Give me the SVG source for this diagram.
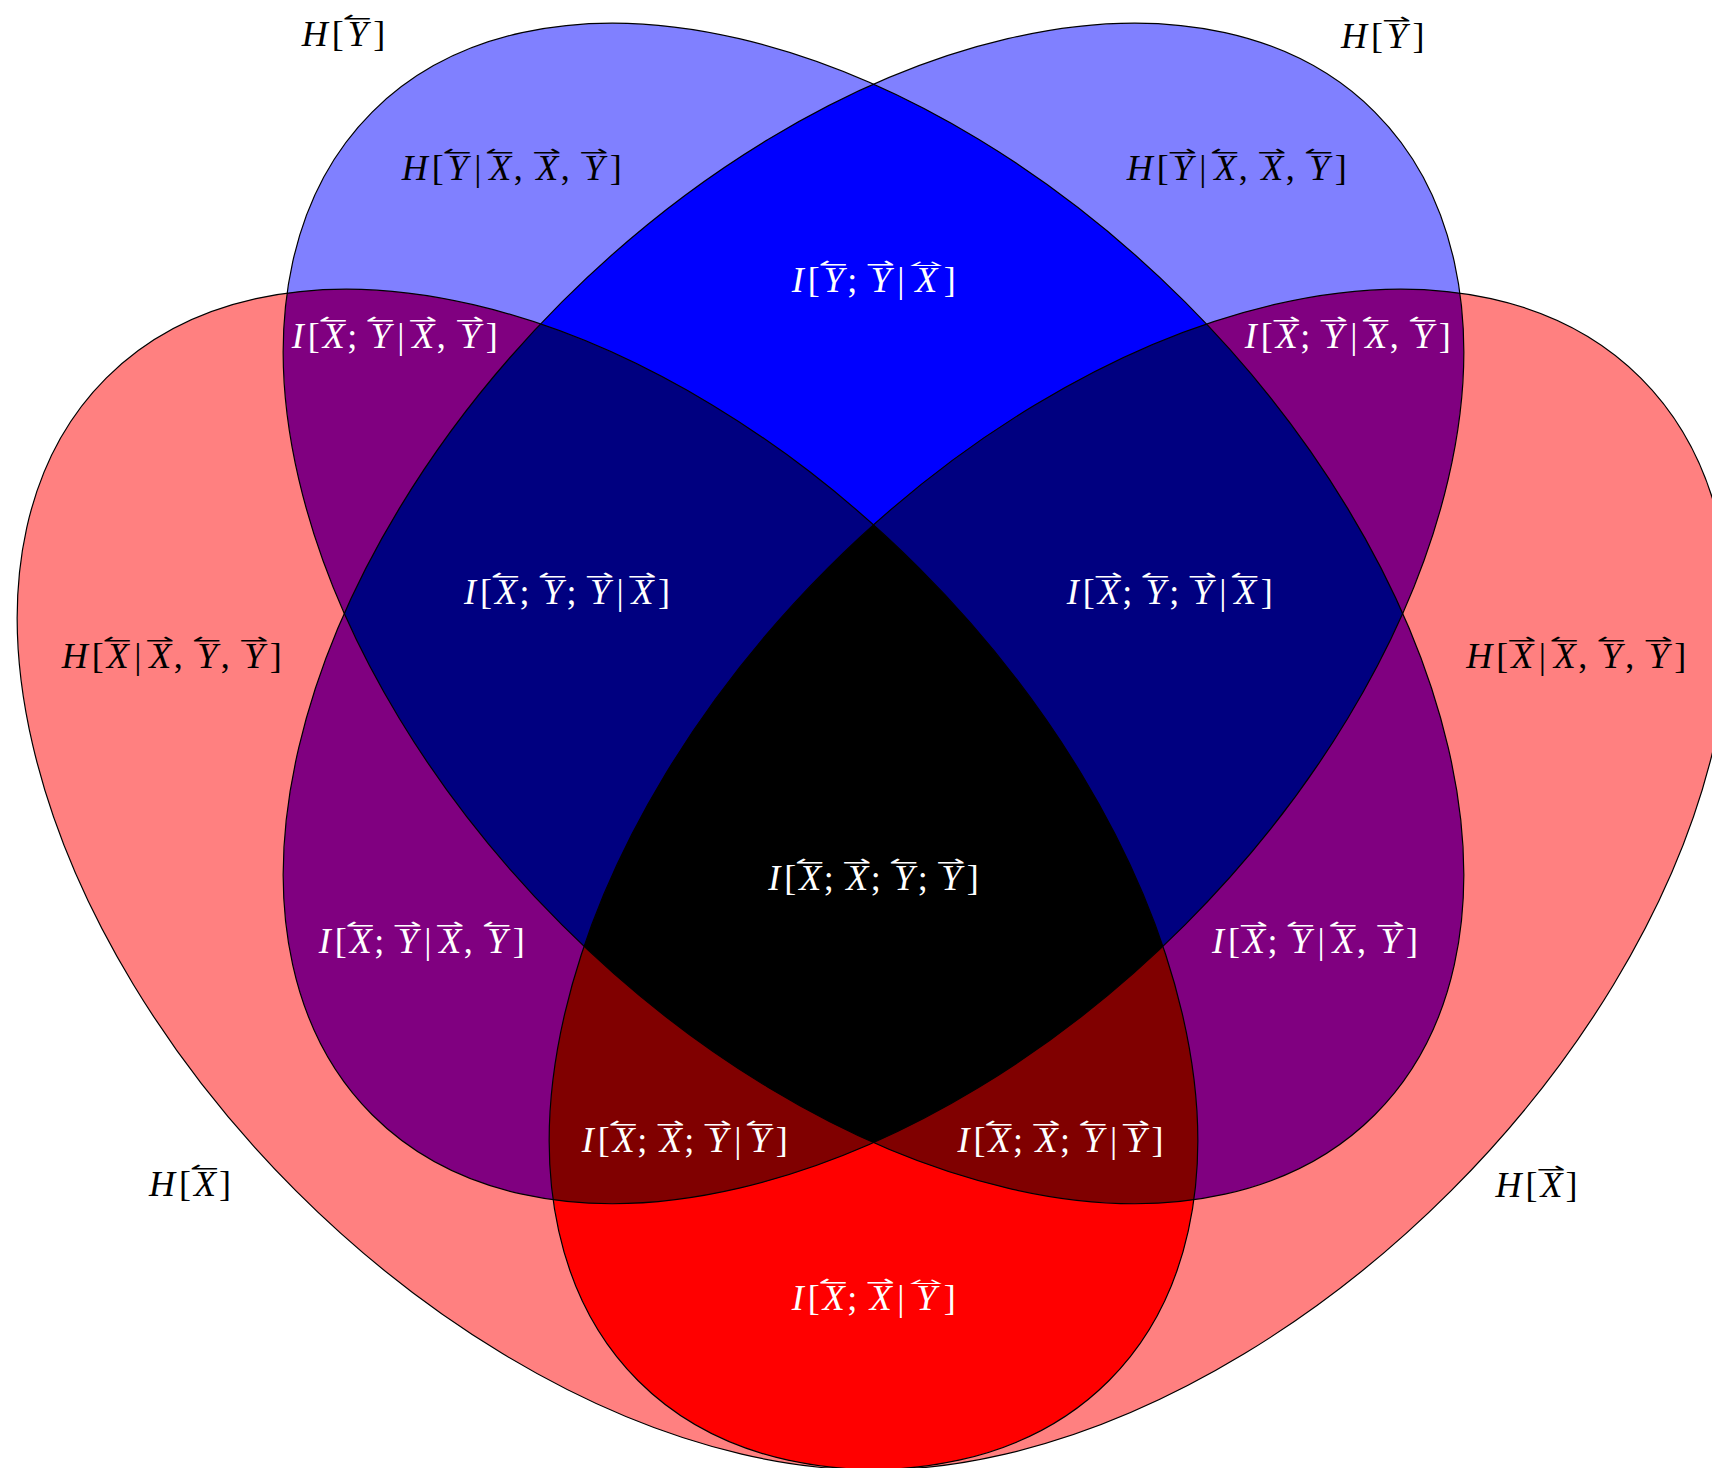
<svg xmlns="http://www.w3.org/2000/svg" width="1712" height="1468" viewBox="0 0 1712 1468">
<style>
.t{font-family:"Liberation Serif",serif;font-size:36px;font-style:italic}
.t .n{font-style:normal}
.t .a{font-family:"DejaVu Sans",sans-serif;font-size:20px;font-style:normal}
.k{fill:#000}
.w{fill:#fff}
.o{fill:none;stroke:#000;stroke-width:1.2}
</style>
<defs>
<ellipse id="eYL" cx="873.5" cy="613.4" rx="709" ry="440.5" transform="rotate(45 873.5 613.4)"/>
<ellipse id="eYR" cx="873.5" cy="613.4" rx="709" ry="440.5" transform="rotate(-45 873.5 613.4)"/>
<ellipse id="eXL" cx="607.5" cy="879.4" rx="709" ry="440.5" transform="rotate(45 607.5 879.4)"/>
<ellipse id="eXR" cx="1139.5" cy="879.4" rx="709" ry="440.5" transform="rotate(-45 1139.5 879.4)"/>
<clipPath id="cYL"><use href="#eYL"/></clipPath>
<clipPath id="cYR"><use href="#eYR"/></clipPath>
<clipPath id="cXL"><use href="#eXL"/></clipPath>
<clipPath id="cXR"><use href="#eXR"/></clipPath>
</defs>
<rect width="1712" height="1468" fill="#fff"/>
<g id="fills">
<use href="#eYL" fill="#8080ff"/>
<use href="#eYR" fill="#8080ff"/>
<use href="#eXL" fill="#ff8080"/>
<use href="#eXR" fill="#ff8080"/>
<g clip-path="url(#cYL)"><use href="#eYR" fill="#0000ff"/></g>
<g clip-path="url(#cXL)"><use href="#eXR" fill="#ff0000"/></g>
<g clip-path="url(#cYL)"><use href="#eXL" fill="#800080"/><use href="#eXR" fill="#800080"/></g>
<g clip-path="url(#cYR)"><use href="#eXL" fill="#800080"/><use href="#eXR" fill="#800080"/></g>
<g clip-path="url(#cYL)"><g clip-path="url(#cYR)"><use href="#eXL" fill="#000080"/><use href="#eXR" fill="#000080"/></g></g>
<g clip-path="url(#cXL)"><g clip-path="url(#cXR)"><use href="#eYL" fill="#800000"/><use href="#eYR" fill="#800000"/></g></g>
<g clip-path="url(#cXL)"><g clip-path="url(#cXR)"><g clip-path="url(#cYL)"><use href="#eYR" fill="#000000"/></g></g></g>
</g>
<g id="setYL"><use href="#eYL" class="o"/></g>
<g id="setYR"><use href="#eYR" class="o"/></g>
<g id="setXL"><use href="#eXL" class="o"/></g>
<g id="setXR"><use href="#eXR" class="o"/></g>

<g id="l1" class="k" transform="translate(301.7,46)">
<text class="t"><tspan x="0" y="0">H</tspan><tspan class="n" x="30" y="0">[</tspan><tspan x="46" y="0">Y</tspan><tspan class="a" x="41" y="-21" textLength="29" lengthAdjust="spacingAndGlyphs">↼</tspan><tspan class="n" x="71.5" y="0">]</tspan></text>
</g>
<g id="l2" class="k" transform="translate(1341,48)">
<text class="t"><tspan x="0" y="0">H</tspan><tspan class="n" x="30" y="0">[</tspan><tspan x="46" y="0">Y</tspan><tspan class="a" x="41" y="-21" textLength="29" lengthAdjust="spacingAndGlyphs">⇀</tspan><tspan class="n" x="71.5" y="0">]</tspan></text>
</g>
<g id="l3" class="k" transform="translate(401.7,180)">
<text class="t"><tspan x="0" y="0">H</tspan><tspan class="n" x="30" y="0">[</tspan><tspan x="46" y="0">Y</tspan><tspan class="a" x="41" y="-21" textLength="29" lengthAdjust="spacingAndGlyphs">↼</tspan><tspan class="n" x="72.5" y="0">|</tspan><tspan x="87.5" y="0">X</tspan><tspan class="a" x="83.5" y="-21" textLength="29" lengthAdjust="spacingAndGlyphs">↼</tspan><tspan class="n" x="112" y="0">,</tspan><tspan x="134.5" y="0">X</tspan><tspan class="a" x="130.5" y="-21" textLength="29" lengthAdjust="spacingAndGlyphs">⇀</tspan><tspan class="n" x="159" y="0">,</tspan><tspan x="182.5" y="0">Y</tspan><tspan class="a" x="177.5" y="-21" textLength="29" lengthAdjust="spacingAndGlyphs">⇀</tspan><tspan class="n" x="208" y="0">]</tspan></text>
</g>
<g id="l4" class="k" transform="translate(1126.8,180)">
<text class="t"><tspan x="0" y="0">H</tspan><tspan class="n" x="30" y="0">[</tspan><tspan x="46" y="0">Y</tspan><tspan class="a" x="41" y="-21" textLength="29" lengthAdjust="spacingAndGlyphs">⇀</tspan><tspan class="n" x="72.5" y="0">|</tspan><tspan x="87.5" y="0">X</tspan><tspan class="a" x="83.5" y="-21" textLength="29" lengthAdjust="spacingAndGlyphs">↼</tspan><tspan class="n" x="112" y="0">,</tspan><tspan x="134.5" y="0">X</tspan><tspan class="a" x="130.5" y="-21" textLength="29" lengthAdjust="spacingAndGlyphs">⇀</tspan><tspan class="n" x="159" y="0">,</tspan><tspan x="182.5" y="0">Y</tspan><tspan class="a" x="177.5" y="-21" textLength="29" lengthAdjust="spacingAndGlyphs">↼</tspan><tspan class="n" x="208" y="0">]</tspan></text>
</g>
<g id="l5" class="w" transform="translate(791.7,291.7)">
<text class="t"><tspan x="0" y="0">I</tspan><tspan class="n" x="16" y="0">[</tspan><tspan x="32" y="0">Y</tspan><tspan class="a" x="27" y="-21" textLength="29" lengthAdjust="spacingAndGlyphs">↼</tspan><tspan class="n" x="55.5" y="0">;</tspan><tspan x="79" y="0">Y</tspan><tspan class="a" x="74" y="-21" textLength="29" lengthAdjust="spacingAndGlyphs">⇀</tspan><tspan class="n" x="105.5" y="0">|</tspan><tspan x="123.5" y="0">X</tspan><tspan class="a" x="117.5" y="-21" textLength="34" lengthAdjust="spacingAndGlyphs">⥎</tspan><tspan class="n" x="152" y="0">]</tspan></text>
</g>
<g id="l6" class="w" transform="translate(291.7,347.7)">
<text class="t"><tspan x="0" y="0">I</tspan><tspan class="n" x="16" y="0">[</tspan><tspan x="31" y="0">X</tspan><tspan class="a" x="27" y="-21" textLength="29" lengthAdjust="spacingAndGlyphs">↼</tspan><tspan class="n" x="55.5" y="0">;</tspan><tspan x="79" y="0">Y</tspan><tspan class="a" x="74" y="-21" textLength="29" lengthAdjust="spacingAndGlyphs">↼</tspan><tspan class="n" x="105.5" y="0">|</tspan><tspan x="120.5" y="0">X</tspan><tspan class="a" x="116.5" y="-21" textLength="29" lengthAdjust="spacingAndGlyphs">⇀</tspan><tspan class="n" x="145" y="0">,</tspan><tspan x="168.5" y="0">Y</tspan><tspan class="a" x="163.5" y="-21" textLength="29" lengthAdjust="spacingAndGlyphs">⇀</tspan><tspan class="n" x="194" y="0">]</tspan></text>
</g>
<g id="l7" class="w" transform="translate(1244.7,347.7)">
<text class="t"><tspan x="0" y="0">I</tspan><tspan class="n" x="16" y="0">[</tspan><tspan x="31" y="0">X</tspan><tspan class="a" x="27" y="-21" textLength="29" lengthAdjust="spacingAndGlyphs">⇀</tspan><tspan class="n" x="55.5" y="0">;</tspan><tspan x="79" y="0">Y</tspan><tspan class="a" x="74" y="-21" textLength="29" lengthAdjust="spacingAndGlyphs">⇀</tspan><tspan class="n" x="105.5" y="0">|</tspan><tspan x="120.5" y="0">X</tspan><tspan class="a" x="116.5" y="-21" textLength="29" lengthAdjust="spacingAndGlyphs">↼</tspan><tspan class="n" x="145" y="0">,</tspan><tspan x="168.5" y="0">Y</tspan><tspan class="a" x="163.5" y="-21" textLength="29" lengthAdjust="spacingAndGlyphs">↼</tspan><tspan class="n" x="194" y="0">]</tspan></text>
</g>
<g id="l8" class="w" transform="translate(464,604)">
<text class="t"><tspan x="0" y="0">I</tspan><tspan class="n" x="16" y="0">[</tspan><tspan x="31" y="0">X</tspan><tspan class="a" x="27" y="-21" textLength="29" lengthAdjust="spacingAndGlyphs">↼</tspan><tspan class="n" x="55.5" y="0">;</tspan><tspan x="79" y="0">Y</tspan><tspan class="a" x="74" y="-21" textLength="29" lengthAdjust="spacingAndGlyphs">↼</tspan><tspan class="n" x="102.5" y="0">;</tspan><tspan x="126" y="0">Y</tspan><tspan class="a" x="121" y="-21" textLength="29" lengthAdjust="spacingAndGlyphs">⇀</tspan><tspan class="n" x="152.5" y="0">|</tspan><tspan x="167.5" y="0">X</tspan><tspan class="a" x="163.5" y="-21" textLength="29" lengthAdjust="spacingAndGlyphs">⇀</tspan><tspan class="n" x="194" y="0">]</tspan></text>
</g>
<g id="l9" class="w" transform="translate(1066.7,604)">
<text class="t"><tspan x="0" y="0">I</tspan><tspan class="n" x="16" y="0">[</tspan><tspan x="31" y="0">X</tspan><tspan class="a" x="27" y="-21" textLength="29" lengthAdjust="spacingAndGlyphs">⇀</tspan><tspan class="n" x="55.5" y="0">;</tspan><tspan x="79" y="0">Y</tspan><tspan class="a" x="74" y="-21" textLength="29" lengthAdjust="spacingAndGlyphs">↼</tspan><tspan class="n" x="102.5" y="0">;</tspan><tspan x="126" y="0">Y</tspan><tspan class="a" x="121" y="-21" textLength="29" lengthAdjust="spacingAndGlyphs">⇀</tspan><tspan class="n" x="152.5" y="0">|</tspan><tspan x="167.5" y="0">X</tspan><tspan class="a" x="163.5" y="-21" textLength="29" lengthAdjust="spacingAndGlyphs">↼</tspan><tspan class="n" x="194" y="0">]</tspan></text>
</g>
<g id="l10" class="k" transform="translate(61.7,667.7)">
<text class="t"><tspan x="0" y="0">H</tspan><tspan class="n" x="30" y="0">[</tspan><tspan x="45" y="0">X</tspan><tspan class="a" x="41" y="-21" textLength="29" lengthAdjust="spacingAndGlyphs">↼</tspan><tspan class="n" x="72.5" y="0">|</tspan><tspan x="87.5" y="0">X</tspan><tspan class="a" x="83.5" y="-21" textLength="29" lengthAdjust="spacingAndGlyphs">⇀</tspan><tspan class="n" x="112" y="0">,</tspan><tspan x="135.5" y="0">Y</tspan><tspan class="a" x="130.5" y="-21" textLength="29" lengthAdjust="spacingAndGlyphs">↼</tspan><tspan class="n" x="159" y="0">,</tspan><tspan x="182.5" y="0">Y</tspan><tspan class="a" x="177.5" y="-21" textLength="29" lengthAdjust="spacingAndGlyphs">⇀</tspan><tspan class="n" x="208" y="0">]</tspan></text>
</g>
<g id="l11" class="k" transform="translate(1466.3,667.7)">
<text class="t"><tspan x="0" y="0">H</tspan><tspan class="n" x="30" y="0">[</tspan><tspan x="45" y="0">X</tspan><tspan class="a" x="41" y="-21" textLength="29" lengthAdjust="spacingAndGlyphs">⇀</tspan><tspan class="n" x="72.5" y="0">|</tspan><tspan x="87.5" y="0">X</tspan><tspan class="a" x="83.5" y="-21" textLength="29" lengthAdjust="spacingAndGlyphs">↼</tspan><tspan class="n" x="112" y="0">,</tspan><tspan x="135.5" y="0">Y</tspan><tspan class="a" x="130.5" y="-21" textLength="29" lengthAdjust="spacingAndGlyphs">↼</tspan><tspan class="n" x="159" y="0">,</tspan><tspan x="182.5" y="0">Y</tspan><tspan class="a" x="177.5" y="-21" textLength="29" lengthAdjust="spacingAndGlyphs">⇀</tspan><tspan class="n" x="208" y="0">]</tspan></text>
</g>
<g id="l12" class="w" transform="translate(768.3,890)">
<text class="t"><tspan x="0" y="0">I</tspan><tspan class="n" x="16" y="0">[</tspan><tspan x="31" y="0">X</tspan><tspan class="a" x="27" y="-21" textLength="29" lengthAdjust="spacingAndGlyphs">↼</tspan><tspan class="n" x="55.5" y="0">;</tspan><tspan x="78" y="0">X</tspan><tspan class="a" x="74" y="-21" textLength="29" lengthAdjust="spacingAndGlyphs">⇀</tspan><tspan class="n" x="102.5" y="0">;</tspan><tspan x="126" y="0">Y</tspan><tspan class="a" x="121" y="-21" textLength="29" lengthAdjust="spacingAndGlyphs">↼</tspan><tspan class="n" x="149.5" y="0">;</tspan><tspan x="173" y="0">Y</tspan><tspan class="a" x="168" y="-21" textLength="29" lengthAdjust="spacingAndGlyphs">⇀</tspan><tspan class="n" x="198.5" y="0">]</tspan></text>
</g>
<g id="l13" class="w" transform="translate(318.8,953)">
<text class="t"><tspan x="0" y="0">I</tspan><tspan class="n" x="16" y="0">[</tspan><tspan x="31" y="0">X</tspan><tspan class="a" x="27" y="-21" textLength="29" lengthAdjust="spacingAndGlyphs">↼</tspan><tspan class="n" x="55.5" y="0">;</tspan><tspan x="79" y="0">Y</tspan><tspan class="a" x="74" y="-21" textLength="29" lengthAdjust="spacingAndGlyphs">⇀</tspan><tspan class="n" x="105.5" y="0">|</tspan><tspan x="120.5" y="0">X</tspan><tspan class="a" x="116.5" y="-21" textLength="29" lengthAdjust="spacingAndGlyphs">⇀</tspan><tspan class="n" x="145" y="0">,</tspan><tspan x="168.5" y="0">Y</tspan><tspan class="a" x="163.5" y="-21" textLength="29" lengthAdjust="spacingAndGlyphs">↼</tspan><tspan class="n" x="194" y="0">]</tspan></text>
</g>
<g id="l14" class="w" transform="translate(1211.9,953)">
<text class="t"><tspan x="0" y="0">I</tspan><tspan class="n" x="16" y="0">[</tspan><tspan x="31" y="0">X</tspan><tspan class="a" x="27" y="-21" textLength="29" lengthAdjust="spacingAndGlyphs">⇀</tspan><tspan class="n" x="55.5" y="0">;</tspan><tspan x="79" y="0">Y</tspan><tspan class="a" x="74" y="-21" textLength="29" lengthAdjust="spacingAndGlyphs">↼</tspan><tspan class="n" x="105.5" y="0">|</tspan><tspan x="120.5" y="0">X</tspan><tspan class="a" x="116.5" y="-21" textLength="29" lengthAdjust="spacingAndGlyphs">↼</tspan><tspan class="n" x="145" y="0">,</tspan><tspan x="168.5" y="0">Y</tspan><tspan class="a" x="163.5" y="-21" textLength="29" lengthAdjust="spacingAndGlyphs">⇀</tspan><tspan class="n" x="194" y="0">]</tspan></text>
</g>
<g id="l15" class="w" transform="translate(581.7,1151.7)">
<text class="t"><tspan x="0" y="0">I</tspan><tspan class="n" x="16" y="0">[</tspan><tspan x="31" y="0">X</tspan><tspan class="a" x="27" y="-21" textLength="29" lengthAdjust="spacingAndGlyphs">↼</tspan><tspan class="n" x="55.5" y="0">;</tspan><tspan x="78" y="0">X</tspan><tspan class="a" x="74" y="-21" textLength="29" lengthAdjust="spacingAndGlyphs">⇀</tspan><tspan class="n" x="102.5" y="0">;</tspan><tspan x="126" y="0">Y</tspan><tspan class="a" x="121" y="-21" textLength="29" lengthAdjust="spacingAndGlyphs">⇀</tspan><tspan class="n" x="152.5" y="0">|</tspan><tspan x="168.5" y="0">Y</tspan><tspan class="a" x="163.5" y="-21" textLength="29" lengthAdjust="spacingAndGlyphs">↼</tspan><tspan class="n" x="194" y="0">]</tspan></text>
</g>
<g id="l16" class="w" transform="translate(957.5,1151.7)">
<text class="t"><tspan x="0" y="0">I</tspan><tspan class="n" x="16" y="0">[</tspan><tspan x="31" y="0">X</tspan><tspan class="a" x="27" y="-21" textLength="29" lengthAdjust="spacingAndGlyphs">↼</tspan><tspan class="n" x="55.5" y="0">;</tspan><tspan x="78" y="0">X</tspan><tspan class="a" x="74" y="-21" textLength="29" lengthAdjust="spacingAndGlyphs">⇀</tspan><tspan class="n" x="102.5" y="0">;</tspan><tspan x="126" y="0">Y</tspan><tspan class="a" x="121" y="-21" textLength="29" lengthAdjust="spacingAndGlyphs">↼</tspan><tspan class="n" x="152.5" y="0">|</tspan><tspan x="168.5" y="0">Y</tspan><tspan class="a" x="163.5" y="-21" textLength="29" lengthAdjust="spacingAndGlyphs">⇀</tspan><tspan class="n" x="194" y="0">]</tspan></text>
</g>
<g id="l17" class="k" transform="translate(149,1196)">
<text class="t"><tspan x="0" y="0">H</tspan><tspan class="n" x="30" y="0">[</tspan><tspan x="45" y="0">X</tspan><tspan class="a" x="41" y="-21" textLength="29" lengthAdjust="spacingAndGlyphs">↼</tspan><tspan class="n" x="70" y="0">]</tspan></text>
</g>
<g id="l18" class="k" transform="translate(1495.5,1197)">
<text class="t"><tspan x="0" y="0">H</tspan><tspan class="n" x="30" y="0">[</tspan><tspan x="45" y="0">X</tspan><tspan class="a" x="41" y="-21" textLength="29" lengthAdjust="spacingAndGlyphs">⇀</tspan><tspan class="n" x="70" y="0">]</tspan></text>
</g>
<g id="l19" class="w" transform="translate(791.7,1310)">
<text class="t"><tspan x="0" y="0">I</tspan><tspan class="n" x="16" y="0">[</tspan><tspan x="31" y="0">X</tspan><tspan class="a" x="27" y="-21" textLength="29" lengthAdjust="spacingAndGlyphs">↼</tspan><tspan class="n" x="55.5" y="0">;</tspan><tspan x="78" y="0">X</tspan><tspan class="a" x="74" y="-21" textLength="29" lengthAdjust="spacingAndGlyphs">⇀</tspan><tspan class="n" x="105.5" y="0">|</tspan><tspan x="124.5" y="0">Y</tspan><tspan class="a" x="117.5" y="-21" textLength="34" lengthAdjust="spacingAndGlyphs">⥎</tspan><tspan class="n" x="152" y="0">]</tspan></text>
</g>
</svg>
